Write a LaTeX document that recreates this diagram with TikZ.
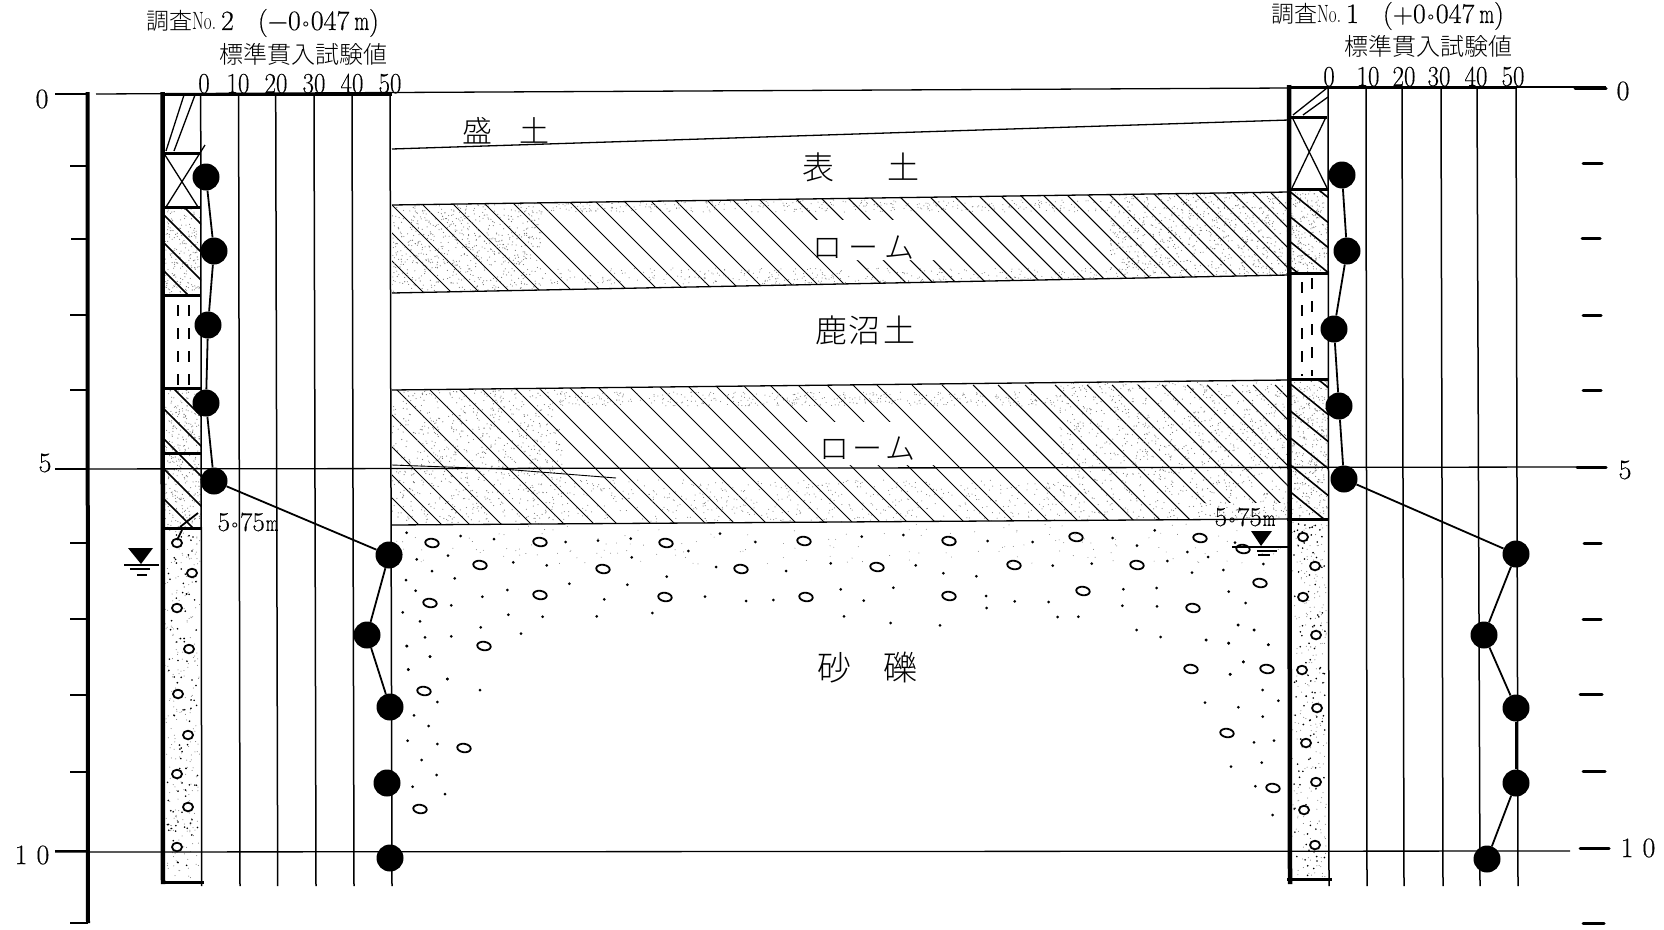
\documentclass[tikz,border=0pt]{standalone}
\usepackage{fontspec}
\newfontfamily\cjk{Noto Sans CJK JP Light}
\newfontfamily\symf{DejaVu Sans}
\newfontfamily\dg[FakeBold=0.35]{Latin Modern Roman}
\newcommand\fsz[1]{\fontsize{#1}{#1}\selectfont}
\newcommand\cir{{\symf\fontsize{16}{16}\selectfont ∘}}
\newcommand\nm[1]{\scalebox{.68}[1]{#1}}
\newcommand\sn[1]{\scalebox{.86}[1]{\dg\fsz{29}#1}}
\tikzset{
  thin line/.style={line width=1.3pt,black},
  gridline/.style={line width=1.5pt,black},
  hatchline/.style={line width=1.05pt,black},
  thick col/.style={line width=4.5pt,black},
  bar/.style={line width=3pt,black},
  tickmark/.style={line width=3pt,black,line cap=round},
  tickleft/.style={line width=2.2pt,black},
  ball/.style={circle,fill=black,inner sep=0pt,minimum size=27pt},
  conn/.style={line width=1.8pt,black},
  lbl/.style={inner sep=0pt,black},
  grav/.style={line width=1.8pt,black},
  spk/.style={fill=black!55},
  dashcol/.style={line width=2pt,black,dash pattern=on 11pt off 12pt},
}
\begin{document}
\begin{tikzpicture}[x=1pt,y=-1pt]
\useasboundingbox (0,0) rectangle (1664,929);
\fill[white] (0,0) rectangle (1664,929);
\pgfmathsetseed{11}
% ---- ground bands ----
\begin{scope}
\clip (392,205) -- (1289,192) -- (1289,275) -- (392,293) -- cycle;
\foreach \t in {321,349,377,408,439,471,500,527,558,584,613,640,665,697,723,750,787,813,840,863,893,923,948,973,995,1015,1038,1062,1083,1105,1128,1150,1172,1192,1210,1230,1250,1268}
  \draw[hatchline] (\t,190) -- (\t+115,305);
\fill[white] (797,220) -- (903,220) -- (943,260) -- (837,260) -- cycle;
\foreach \i in {1,...,750} \fill[spk] (392+rnd*150,198+rnd*95) circle[radius=.55];
\foreach \i in {1,...,750} \fill[spk] (1110+rnd*180,190+rnd*90) circle[radius=.55];
\foreach \i in {1,...,350} \fill[spk] (540+rnd*570,200+rnd*12) circle[radius=.5];
\foreach \i in {1,...,350} \fill[spk] (540+rnd*570,268+rnd*16) circle[radius=.5];
\end{scope}
\begin{scope}
\clip (392,390) -- (1289,380) -- (1289,519) -- (392,525) -- cycle;
\foreach \t in {279,302,330,362,392,425,455,478,512,536,567,596,628,658,687,715,743,770,798,827,853,877,912,942,973,998,1025,1055,1087,1112,1138,1162,1187,1207,1232,1253,1275}
  \draw[hatchline] (\t,385) -- (\t+150,535);
\fill[white] (795,422) -- (900,422) -- (943,465) -- (838,465) -- cycle;
\fill[white] (1190,503) rectangle (1289,520);
\foreach \i in {1,...,800} \fill[spk] (392+rnd*170,385+rnd*140) circle[radius=.55];
\foreach \i in {1,...,1000} \fill[spk] (1060+rnd*230,380+rnd*140) circle[radius=.55];
\foreach \i in {1,...,400} \fill[spk] (560+rnd*500,392+rnd*14) circle[radius=.5];
\foreach \i in {1,...,500} \fill[spk] (560+rnd*500,480+rnd*42) circle[radius=.5];
\end{scope}
% faint speckle under band 2
\foreach \i in {1,...,160} \fill[spk] (392+rnd*890,524+rnd*40) circle[radius=.45];
% ---- left column hatch ----
\begin{scope}
\clip (163,207) rectangle (201,295);
\foreach \i in {1,...,220} \fill[spk] (163+rnd*38,207+rnd*88) circle[radius=.55];
\foreach \t in {120,148,176,204,232,260,288} \draw[hatchline,line width=1.6pt] (160,\t+35) -- (205,\t+80);
\end{scope}
\begin{scope}
\clip (163,388) rectangle (201,528);
\foreach \i in {1,...,340} \fill[spk] (163+rnd*38,388+rnd*140) circle[radius=.55];
\foreach \t in {340,370,400,430,460,490} \draw[hatchline,line width=1.6pt] (160,\t+35) -- (205,\t+80);
\end{scope}
% ---- right column hatch ----
\begin{scope}
\clip (1290,189) rectangle (1328,273);
\foreach \i in {1,...,220} \fill[spk] (1290+rnd*38,189+rnd*84) circle[radius=.55];
\foreach \t in {165,190,215,240,265} \draw[hatchline,line width=1.6pt] (1288,\t) -- (1330,\t+34);
\end{scope}
\begin{scope}
\clip (1290,379) rectangle (1328,519);
\foreach \i in {1,...,340} \fill[spk] (1290+rnd*38,379+rnd*140) circle[radius=.55];
\foreach \t in {355,382,409,436,463,490,517} \draw[hatchline,line width=1.6pt] (1288,\t) -- (1330,\t+34);
\end{scope}
% ---- gravel column stipple ----
\foreach \i in {1,...,240} \fill[spk] (165+rnd*35,530+rnd*350) circle[radius=.5];
\foreach \i in {1,...,90} \fill[black] (167+rnd*31,532+rnd*346) circle[radius=.9];
\foreach \i in {1,...,240} \fill[spk] (1292+rnd*35,521+rnd*356) circle[radius=.5];
\foreach \i in {1,...,110} \fill[black] (1294+rnd*31,523+rnd*354) circle[radius=.9];
\foreach \p/\q in {177/543,192/573,177/608,189/649,178/694,188/735,177/774,188/807,177/847,1303/537,1315/566,1303/597,1316/635,1302/670,1317/708,1306/743,1316/782,1304/810,1315/845}
  \draw[grav,fill=white] (\p,\q) ellipse[x radius=5,y radius=4.3];
% ---- main lines ----
\draw[thin line] (96,94) -- (1289,88);
\draw[thin line] (55,469) -- (1577,467);
\draw[thin line] (55,852) -- (1570,851);
\draw[thin line] (392,149) -- (1289,120);
\draw[thin line] (392,205) -- (1289,192);
\draw[thin line] (392,293) -- (1289,275);
\draw[thin line] (392,390) -- (1289,380);
\draw[thin line] (392,525) -- (1289,519);
\draw[line width=.9pt] (392,465) -- (502,469) -- (616,478);
% ---- ground gravel ----
\foreach \p/\q in {432/543,540/542,666/543,804/541,480/565,603/569,741/569,430/603,540/595,665/597,806/597,484/646,464/748,420/809,424/691,949/541,1076/537,1200/538,877/567,1014/565,1137/565,949/596,1083/591,1193/608,1191/669,1260/583,1243/549,1267/669,1227/733,1273/788}
  \draw[grav] (\p,\q) ellipse[x radius=6.8,y radius=4.2,rotate=-8];
\foreach \a/\b in {80/128,242/138,342/147,557/156,654/152,752/146,925/183,1020/131,1126/156,110/208,204/197,400/217,500/226,755/202,1008/231,1218/243,156/243,78/270,224/265,860/260,568/281,742/284,107/302,382/300,307/320,673/328,975/320,1098/333,1180/330,214/346,68/367,120/394,385/374,488/380,650/379,817/369,302/412,423/431,135/442,214/439,81/468,150/500,85/539,202/567}
  \fill (380+\a/3,490+\b/3) circle[radius=1.5];
\foreach \a/\b in {920/678,990/710,925/748,1042/777,1140/810,1012/846,942/886,986/918,923/962,1012/972,965/1020,1010/1065,938/1100,1035/1122}
  \fill (100+\a/3,420+\b/3) circle[radius=1.5];
\foreach \a/\b in {125/140,250/135,503/153,638/156,878/144,1004/121,951/167,1102/186,1164/201,1245/158,32/220,287/226,370/250,469/259,698/227,815/221,1042/213,1116/248,1210/240,1330/222,62/298,220/293,910/298,1010/294,1226/305,131/332,498/318,500/354,584/334,686/336,907/347,1011/349,1277/339,72/379,212/399,360/406,713/381,775/380,1254/405,1302/420,950/420,1022/441,1158/450,1226/459,1345/464,1270/516,1231/553}
  \fill (820+\a/3,490+\b/3) circle[radius=1.5];
\foreach \a/\b in {174/615,222/630,78/660,146/670,265/674,190/725,150/763,248/810,295/842,75/848,175/862,248/890,222/967,282/962,245/1028,153/1040,226/1099,278/1185}
  \fill (1180+\a/3,420+\b/3) circle[radius=1.5];
% ---- grids ----
\foreach \u/\v in {200.7/201.7,238.6/240,275.7/277.7,314/316,352/354,390/392}
  \draw[gridline] (\u,94) -- (\v,886);
\foreach \u/\v in {1328/1329,1366/1367,1402/1404,1441/1443,1477/1480,1516/1518}
  \draw[gridline] (\u,87) -- (\v,886);
% ---- columns ----
\draw[thick col] (162.5,92) -- (163,884);
\draw[thick col] (1289,85) -- (1290,884);
\draw[bar] (161,94) -- (392,94);
\draw[bar] (1287,87) -- (1516,87);
\draw[thin line] (1516,87) -- (1606,87);
\draw[bar] (161,153) -- (201,153);
\draw[bar] (161,207) -- (201,207);
\draw[bar] (161,295) -- (201,295);
\draw[bar] (161,388) -- (201,388);
\draw[bar] (161,453) -- (201,453);
\draw[bar] (161,528) -- (201,528);
\draw[bar] (161,882) -- (204,882);
\draw[bar] (1287,117) -- (1327,117);
\draw[bar] (1287,189) -- (1328,189);
\draw[bar] (1287,273) -- (1328,273);
\draw[bar] (1287,379) -- (1328,379);
\draw[bar] (1287,519) -- (1329,519);
\draw[bar] (1287,879) -- (1332,879);
% fill and cut symbols
\draw[thin line] (184,95) -- (166,151);
\draw[thin line] (195,95) -- (174,151);
\draw[thin line] (165,155) -- (198,207);
\draw[thin line] (205,145) -- (166,207);
\draw[thin line] (1327,88) -- (1293,115);
\draw[thin line] (1328,97) -- (1303,115);
\draw[thin line] (1292,117) -- (1327,188);
\draw[thin line] (1326,117) -- (1292,188);
\draw[dashcol] (178,305) -- (178,385);
\draw[dashcol] (189,305) -- (189,385);
\draw[dashcol] (1302,282) -- (1302,376);
\draw[dashcol] (1312,278) -- (1312,376);
\draw[line width=1.8pt] (180,527) -- (198,513);
\draw[line width=1.8pt] (182,530) -- (177,540);
% ---- depth axis ----
\draw[line width=4pt] (87.5,92) -- (88,923);
\foreach \y/\w in {94/55,166/70,239/71,315/70,390/70,469/55,543/70,619/70,695/70,772/70,851/55,923/70}
  \draw[tickleft] (\w,\y) -- (88,\y);
\foreach \y/\a/\b in {88/1575/1606,163/1583/1602,238/1582/1600,315/1583/1601,390/1583/1601,467/1577/1606,543/1584/1601,619/1583/1601,694/1580/1602,771/1583/1605,848/1580/1609,923/1583/1604}
  \draw[tickmark] (\a,\y) -- (\b,\y);
% ---- water level ----
\fill (128,548) -- (153,548) -- (141,564) -- cycle;
\draw[line width=1.2pt] (124,565) -- (159,565);
\draw[line width=1.2pt] (130,569) -- (150,569);
\draw[line width=1.2pt] (137,575) -- (147,575);
\fill (1251,531) -- (1272,531) -- (1261,546) -- cycle;
\draw[line width=1.2pt] (1232,547) -- (1288,547);
\draw[line width=1.2pt] (1257,551) -- (1277,551);
\draw[line width=1.2pt] (1258,555) -- (1270,555);
% ---- N-value balls ----
\node[ball] (L1) at (206,177) {};
\node[ball] (L2) at (214,251) {};
\node[ball] (L3) at (208,325) {};
\node[ball] (L4) at (206,403) {};
\node[ball] (L5) at (214,481) {};
\node[ball] (L6) at (389,555) {};
\node[ball] (L7) at (367,635) {};
\node[ball] (L8) at (390,707) {};
\node[ball] (L9) at (387,783) {};
\node[ball] (L10) at (390,858) {};
\draw[conn] (L1) -- (L2);
\draw[conn] (L2) -- (L3);
\draw[conn] (L3) -- (L4);
\draw[conn] (L4) -- (L5);
\draw[conn] (L5) -- (L6);
\draw[conn] (L6) -- (L7);
\draw[conn] (L7) -- (L8);
\node[ball] (R1) at (1342,175) {};
\node[ball] (R2) at (1347,251) {};
\node[ball] (R3) at (1334,329) {};
\node[ball] (R4) at (1339,406) {};
\node[ball] (R5) at (1344,479) {};
\node[ball] (R6) at (1516,554) {};
\node[ball] (R7) at (1484,635) {};
\node[ball] (R8) at (1516,708) {};
\node[ball] (R9) at (1516,783) {};
\node[ball] (R10) at (1487,859) {};
\draw[conn] (R1) -- (R2);
\draw[conn] (R2) -- (R3);
\draw[conn] (R3) -- (R4);
\draw[conn] (R4) -- (R5);
\draw[conn] (R5) -- (R6);
\draw[conn] (R6) -- (R7);
\draw[conn] (R7) -- (R8);
\draw[conn] (R8) -- (R9);
\draw[conn] (R9) -- (R10);
% ---- titles ----
\node[lbl,anchor=west] (t2) at (146,23) {\fsz{23}{\cjk 調査}\nm{\fsz{25}No.}\hspace{5pt}{\dg\fsz{28}2}\hspace{24pt}{\dg\fsz{28}(−0\cir047\hspace{5pt}\nm{m})}};
\node[lbl] (s2) at (303,54) {\fsz{24}\cjk 標準貫入試験値};
\node[lbl,anchor=west] (t1) at (1271,16) {\fsz{23}{\cjk 調査}\nm{\fsz{25}No.}\hspace{5pt}{\dg\fsz{28}1}\hspace{24pt}{\dg\fsz{28}(+0\cir047\hspace{5pt}\nm{m})}};
\node[lbl] (s1) at (1428,46) {\fsz{24}\cjk 標準貫入試験値};
\foreach \x/\n in {204/0,238/10,276/20,314/30,352/40,390/50}
  \node[lbl,anchor=base] (a\n) at (\x,93) {\sn{\n}};
\foreach \x/\n in {1329/0,1368/10,1404/20,1439/30,1476/40,1513/50}
  \node[lbl,anchor=base] (b\n) at (\x,86) {\sn{\n}};
% ---- axis numbers ----
\node[lbl] (l0) at (42,99) {\dg\fsz{28}0};
\node[lbl] (l5) at (45,463) {\dg\fsz{28}5};
\node[lbl] (l10) at (32,855) {\dg\fsz{28}1\hspace{9pt}0};
\node[lbl] (r0) at (1623,91) {\dg\fsz{28}0};
\node[lbl] (r5) at (1625,470) {\dg\fsz{28}5};
\node[lbl] (r10) at (1638,848) {\dg\fsz{28}1\hspace{9pt}0};
% ---- layer names ----
\node[lbl] (n1) at (506,131) {\fsz{30}\cjk 盛\hspace{28pt}土};
\node[lbl] (n2) at (861,167) {\fsz{32}\cjk 表\hspace{54pt}土};
\node[lbl] (n3) at (863,248) {\fsz{30}\cjk ロ\hspace{6pt}ー\hspace{6pt}ム};
\node[lbl] (n4) at (865,330) {\fsz{32}\cjk 鹿\hspace{2pt}沼\hspace{2pt}土};
\node[lbl] (n5) at (867,449) {\fsz{30}\cjk ロ\hspace{3pt}ー\hspace{3pt}ム};
\node[lbl] (n6) at (867,668) {\fsz{34}\cjk 砂\hspace{32pt}礫};
\node[lbl] (d2) at (248,522) {\dg\fsz{27}5\cir 75\hspace{1pt}\nm{\fsz{24}m}};
\node[lbl] (d1) at (1245,517) {\dg\fsz{27}5\cir 75\hspace{1pt}\nm{\fsz{24}m}};
\end{tikzpicture}
\end{document}
